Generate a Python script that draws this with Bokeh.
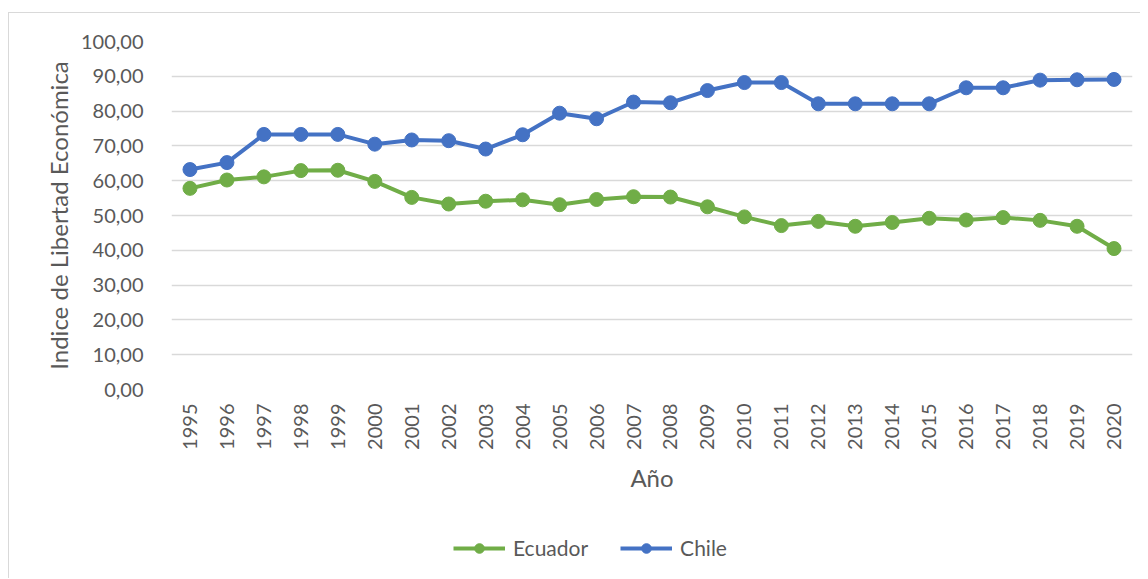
from bokeh.plotting import figure
from bokeh.layouts import column
from bokeh.models import (FactorRange, Range1d, FixedTicker, Legend, LegendItem,
                          ColumnDataSource)
from bokeh.embed import file_html
from bokeh.resources import INLINE
import math

years = [str(y) for y in range(1995, 2021)]
ecuador = [57.8, 60.2, 61.1, 62.9, 63.0, 59.8, 55.2, 53.3, 54.1, 54.5, 53.1, 54.6, 55.4,
           55.3, 52.5, 49.6, 47.1, 48.3, 46.9, 48.0, 49.2, 48.7, 49.4, 48.6, 46.9, 40.5]
chile = [63.2, 65.2, 73.3, 73.3, 73.3, 70.5, 71.7, 71.5, 69.1, 73.2, 79.4, 77.8, 82.6,
         82.4, 85.9, 88.2, 88.2, 82.1, 82.1, 82.1, 82.1, 86.7, 86.7, 88.9, 89.0, 89.1]
y_ticks = [0, 10, 20, 30, 40, 50, 60, 70, 80, 90, 100]
y_tick_labels = ["0,00", "10,00", "20,00", "30,00", "40,00", "50,00", "60,00",
                 "70,00", "80,00", "90,00", "100,00"]
series_names = ["Ecuador", "Chile"]
colors = ["#70AD47", "#4472C4"]

FONT = "Lato"
TXT = "#595959"
BORDER = "#D9D9D9"

src = ColumnDataSource(dict(year=years, ecuador=ecuador, chile=chile))

# ---------------- main chart ----------------
p = figure(x_range=FactorRange(*years, range_padding=0), y_range=Range1d(0, 100),
           frame_width=961, frame_height=348,
           min_border_left=162, min_border_right=8, min_border_top=28, min_border_bottom=111,
           output_backend="svg", toolbar_location=None)

p.outline_line_color = None
p.background_fill_color = "white"
p.border_fill_color = "white"

p.xgrid.grid_line_color = None
p.ygrid.grid_line_color = BORDER
p.ygrid.grid_line_width = 1.3
p.yaxis.ticker = FixedTicker(ticks=y_ticks)
p.yaxis.major_label_overrides = {t: l for t, l in zip(y_ticks, y_tick_labels)}

for ax in (p.xaxis[0], p.yaxis[0]):
    ax.axis_line_color = None
    ax.major_tick_line_color = None
    ax.minor_tick_line_color = None
    ax.major_label_text_font = FONT
    ax.major_label_text_font_size = "20px"
    ax.major_label_text_color = TXT
    ax.axis_label_text_font = FONT
    ax.axis_label_text_font_size = "24px"
    ax.axis_label_text_color = TXT
    ax.axis_label_text_font_style = "normal"

p.xaxis.major_label_orientation = math.pi / 2
p.xaxis.major_label_standoff = 8
p.xaxis.axis_label = "Año"
p.xaxis.axis_label_standoff = 10
p.yaxis.axis_label = "Indice de Libertad Económica"
p.yaxis.major_label_standoff = 22
p.yaxis.axis_label_standoff = 5

for key, col in zip(["ecuador", "chile"], colors):
    p.line("year", key, source=src, line_color=col, line_width=4)
    p.scatter("year", key, source=src, size=14, fill_color=col, line_color=col)

# ---------------- legend strip ----------------
p2 = figure(width=1131, height=78, x_range=Range1d(0, 1), y_range=Range1d(0, 1),
            min_border=0, x_axis_location=None, y_axis_location=None,
            output_backend="svg", toolbar_location=None)
p2.outline_line_color = None
p2.grid.grid_line_color = None
p2.border_fill_color = "white"

items = []
for name, col in zip(series_names, colors):
    ln = p2.line(x=[-10, -9], y=[-10, -9], line_color=col, line_width=4)
    sc = p2.scatter(x=[-10], y=[-10], size=14, fill_color=col, line_color=col)
    items.append(LegendItem(label=name, renderers=[ln, sc]))

legend = Legend(items=items, orientation="horizontal", location=(282, 18),
                label_text_font=FONT, label_text_font_size="21px", label_text_color=TXT,
                glyph_width=52, glyph_height=24, label_standoff=8, spacing=32,
                border_line_color=None, background_fill_alpha=0, margin=0, padding=0)
p2.add_layout(legend, "center")

layout = column(p, p2, spacing=0, margin=(12, 0, 0, 8),
                styles={"border-top": "1px solid #D9D9D9", "border-left": "1px solid #D9D9D9"})
open("out.html", "w").write(file_html(layout, INLINE))
